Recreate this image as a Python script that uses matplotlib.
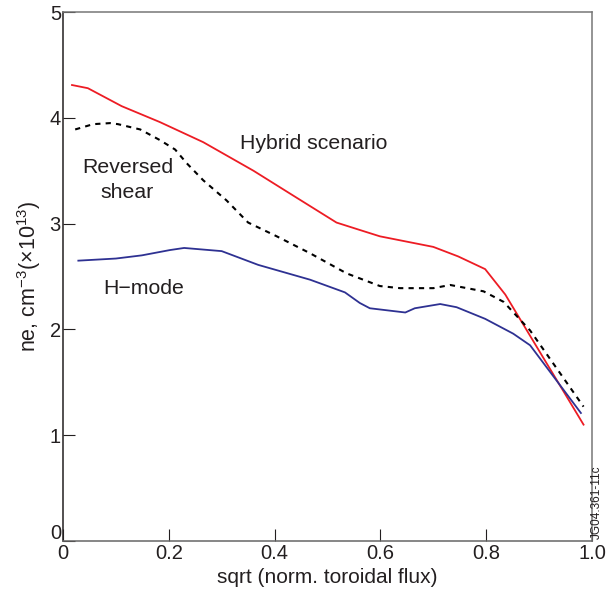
import matplotlib
matplotlib.use("Agg")
import matplotlib.pyplot as plt
import matplotlib.transforms as mtransforms

plt.rcParams["font.family"] = ["Liberation Sans", "DejaVu Sans"]
plt.rcParams["mathtext.fontset"] = "custom"
plt.rcParams["mathtext.rm"] = "Liberation Sans"
plt.rcParams["mathtext.it"] = "Liberation Sans:italic"
plt.rcParams["mathtext.bf"] = "Liberation Sans:bold"

# Hybrid scenario (red)
hyb_x = [0.017, 0.047, 0.111, 0.183, 0.265, 0.36, 0.44, 0.517, 0.561, 0.599, 0.70, 0.747, 0.798, 0.836, 0.984]
hyb_y = [4.31, 4.28, 4.11, 3.96, 3.77, 3.50, 3.25, 3.01, 2.94, 2.88, 2.78, 2.69, 2.57, 2.33, 1.10]

# H-mode (blue)
hm_x = [0.029, 0.10, 0.149, 0.202, 0.229, 0.300, 0.369, 0.467, 0.533, 0.561, 0.580,
        0.647, 0.665, 0.713, 0.744, 0.798, 0.851, 0.883, 0.979]
hm_y = [2.65, 2.67, 2.70, 2.75, 2.77, 2.74, 2.61, 2.47, 2.35, 2.25, 2.20,
        2.16, 2.20, 2.24, 2.21, 2.10, 1.96, 1.85, 1.21]

# Reversed shear (black dashed)
rs_x = [0.023, 0.057, 0.089, 0.104, 0.146, 0.183, 0.212, 0.234, 0.265, 0.309, 0.350,
        0.404, 0.467, 0.536, 0.599, 0.637, 0.700, 0.732, 0.795, 0.833, 0.883, 0.984]
rs_y = [3.89, 3.94, 3.95, 3.94, 3.89, 3.79, 3.70, 3.57, 3.41, 3.22, 3.01,
        2.88, 2.72, 2.53, 2.41, 2.39, 2.39, 2.42, 2.36, 2.26, 1.99, 1.27]

x_ticks = [0, 0.2, 0.4, 0.6, 0.8, 1.0]
x_labels = ["0", "0.2", "0.4", "0.6", "0.8", "1.0"]
y_ticks = [0, 1, 2, 3, 4, 5]

TXT = "#231f20"

fig = plt.figure(figsize=(6.07, 6.01), dpi=100)
ax = fig.add_axes([0.1038, 0.0998, 0.8715, 0.8802])

ax.plot(hyb_x, hyb_y, color="#ed1c24", lw=1.3)
ax.plot(hm_x, hm_y, color="#2e3192", lw=1.3)
ax.plot(rs_x, rs_y, color="black", lw=1.5, ls=(0, (2.5, 2.5)))

ax.set_xlim(0, 1)
ax.set_ylim(0, 5)
ax.set_xticks(x_ticks)
ax.set_xticklabels(x_labels)
ax.set_yticks(y_ticks)
ax.tick_params(direction="in", length=8.5, width=0.8, labelsize=14.5,
               colors=TXT, top=False, right=False)
ax.tick_params(axis="x", pad=2.5)
ax.tick_params(axis="y", pad=1.5)

# the y "0" sits a little above the corner so it clears the x "0"
lab0 = ax.get_yticklabels()[0]
lab0.set_transform(lab0.get_transform() +
                   mtransforms.ScaledTranslation(0, 7 / 72, fig.dpi_scale_trans))

ax.spines["left"].set_color("#231f20")
ax.spines["bottom"].set_color("#666666")
ax.spines["top"].set_color("#777777")
ax.spines["right"].set_color("#777777")
for s in ax.spines.values():
    s.set_linewidth(1.1)

ax.set_xlabel("sqrt (norm. toroidal flux)", fontsize=15, color=TXT, labelpad=3)
ax.set_ylabel(r"ne, cm$^{-3}$(×10$^{13}$)", fontsize=15.5, color=TXT, labelpad=5)

ax.text(0.335, 3.76, "Hybrid scenario", fontsize=15.3, color=TXT, va="center", ha="left")
ax.text(0.122, 3.53, "Reversed", fontsize=15.3, color=TXT, va="center", ha="center")
ax.text(0.122, 3.29, "shear", fontsize=15.3, color=TXT, va="center", ha="center")
ax.text(0.076, 2.39, "H\u2212mode", fontsize=15.3, color=TXT, va="center", ha="left")

fig.text(597 / 607, (601 - 539) / 601, "JG04.361-11c", rotation=90,
         fontsize=8.5, color=TXT, ha="center", va="bottom")

fig.savefig("out.png", dpi=100, facecolor="white")
